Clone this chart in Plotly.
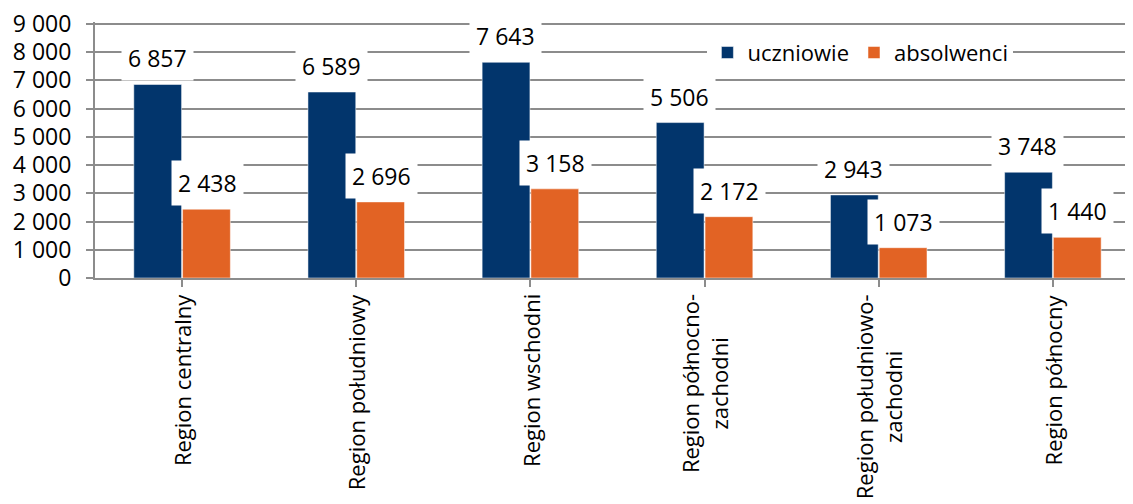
import plotly.graph_objects as go

categories = ["Region centralny", "Region południowy", "Region wschodni",
              "Region północno-<br>zachodni", "Region południowo-<br>zachodni", "Region północny"]
uczniowie = [6857, 6589, 7643, 5506, 2943, 3748]
absolwenci = [2438, 2696, 3158, 2172, 1073, 1440]
y_tick_vals = [0, 1000, 2000, 3000, 4000, 5000, 6000, 7000, 8000, 9000]
y_tick_text = ["0", "1 000", "2 000", "3 000", "4 000", "5 000", "6 000", "7 000", "8 000", "9 000"]

BLUE = "#02356C"
ORANGE = "#E26324"
GRID = "#8C8C8C"
FONT = "Open Sans"
NUM_SIZE = 23
TXT_SIZE = 22

def fmt(v):
    return f"{v:,}".replace(",", " ")

xs = list(range(len(categories)))

fig = go.Figure()
fig.add_trace(go.Bar(x=xs, y=uczniowie, name="uczniowie", marker_color=BLUE,
                     marker_line=dict(color="rgba(255,255,255,0.5)", width=1)))
fig.add_trace(go.Bar(x=xs, y=absolwenci, name="absolwenci", marker_color=ORANGE,
                     marker_line=dict(color="rgba(255,255,255,0.5)", width=1)))

annotations = []
for i in xs:
    annotations.append(dict(x=i, y=uczniowie[i], xref="x", yref="y", xshift=-25, yshift=26,
                            text=fmt(uczniowie[i]), showarrow=False, bgcolor="white",
                            borderpad=6, font=dict(size=NUM_SIZE, color="black", family=FONT),
                            xanchor="center", yanchor="middle"))
    annotations.append(dict(x=i, y=absolwenci[i], xref="x", yref="y", xshift=25, yshift=26,
                            text=fmt(absolwenci[i]), showarrow=False, bgcolor="white",
                            borderpad=6, font=dict(size=NUM_SIZE, color="black", family=FONT),
                            xanchor="center", yanchor="middle"))
    annotations.append(dict(x=i, y=0, xref="x", yref="paper", yshift=-14,
                            text=categories[i], showarrow=False, textangle=-90,
                            align="center", xanchor="center", yanchor="top",
                            font=dict(size=TXT_SIZE, color="black", family=FONT)))

# page body has an 8px margin, so the figure is sized/offset to compensate
fig.update_layout(
    width=1125, height=496,
    margin=dict(l=87, r=0, t=14, b=226),
    paper_bgcolor="white", plot_bgcolor="white",
    barmode="group", bargap=0.44, bargroupgap=0.02,
    font=dict(family=FONT, size=TXT_SIZE, color="black"),
    showlegend=True,
    legend=dict(orientation="h", x=0.59, y=0.88, xanchor="left", yanchor="middle",
                bgcolor="white", font=dict(size=TXT_SIZE, color="black", family=FONT),
                itemclick=False),
    annotations=annotations,
    xaxis=dict(range=[-0.5, 5.46], showticklabels=False, tickson="boundaries",
               tickmode="array", tickvals=xs, ticks="outside", ticklen=7, tickcolor=GRID,
               tickwidth=2, showline=True, linecolor=GRID, linewidth=2, showgrid=False,
               zeroline=False, fixedrange=True),
    yaxis=dict(range=[0, 9070], tickmode="array", tickvals=y_tick_vals, ticktext=y_tick_text,
               ticks="outside", ticklen=7, tickcolor=GRID, tickwidth=2,
               showline=True, linecolor=GRID, linewidth=2,
               showgrid=True, gridcolor=GRID, gridwidth=2, zeroline=False,
               ticklabelstandoff=10, ticklabeloverflow="allow",
               tickfont=dict(size=NUM_SIZE, color="black", family=FONT),
               fixedrange=True),
)

fig.write_html("out.html")
